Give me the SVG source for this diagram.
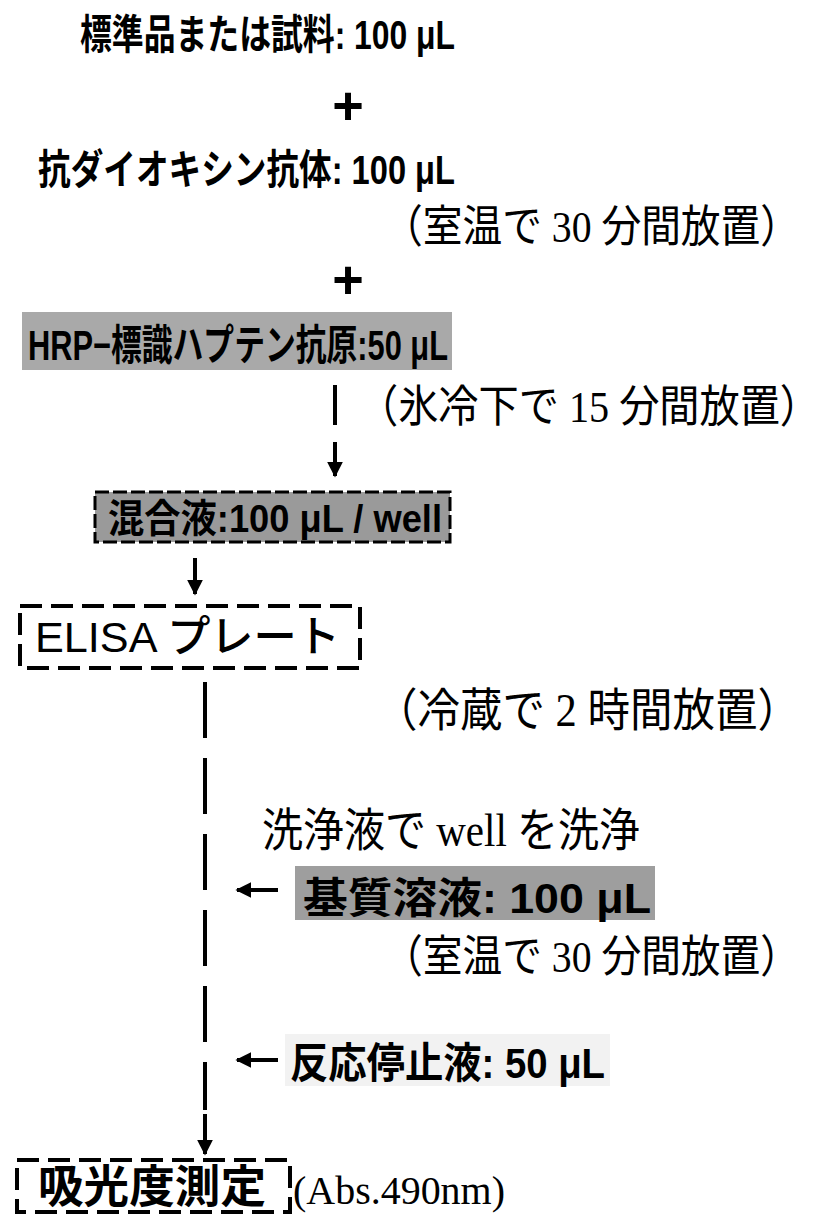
<svg xmlns="http://www.w3.org/2000/svg" width="829" height="1216" viewBox="0 0 829 1216">
<defs>
<style>
.b{font-family:"Liberation Sans","Noto Sans CJK JP",sans-serif;font-weight:bold;fill:#000;}
.m{font-family:"Liberation Sans","Noto Sans CJK JP",sans-serif;font-weight:500;fill:#000;}
.s{font-family:"Liberation Serif","Noto Sans CJK JP",serif;fill:#000;}
.plus{font-family:"Liberation Sans",sans-serif;font-weight:bold;font-size:54px;fill:#000;}
.ln{stroke:#000;stroke-width:4;fill:none;}
.dash{stroke:#000;stroke-width:4;fill:none;stroke-dasharray:22 9;}
.vd{stroke:#000;stroke-width:4;fill:none;stroke-dasharray:56 20;}
</style>
<marker id="ah" viewBox="0 0 10 10" refX="9" refY="5" markerWidth="4" markerHeight="4" orient="auto">
<path d="M0,0 L10,5 L0,10 z" fill="#000"/>
</marker>
</defs>
<rect width="829" height="1216" fill="#fff"/>

<g id="n1">
<text class="b" transform="translate(80,49) scale(1,1.08)" font-size="38" textLength="375" lengthAdjust="spacingAndGlyphs">標準品または試料: 100 μL</text>
</g>
<g id="plus1"><text class="plus" x="348" y="124" text-anchor="middle">+</text></g>
<g id="n2">
<text class="b" transform="translate(38,184) scale(1,1.08)" font-size="38" textLength="417" lengthAdjust="spacingAndGlyphs">抗ダイオキシン抗体: 100 μL</text>
</g>
<g id="t1"><text class="s" transform="translate(383,242) scale(1,1.12)" font-size="40" textLength="417" lengthAdjust="spacingAndGlyphs">（室温で 30 分間放置）</text></g>
<g id="plus2"><text class="plus" x="348" y="298" text-anchor="middle">+</text></g>
<g id="n3">
<rect x="22" y="312" width="430" height="58" fill="#a9a9a9"/>
<text class="b" transform="translate(28,360) scale(1,1.08)" font-size="39" textLength="420" lengthAdjust="spacingAndGlyphs">HRP−標識ハプテン抗原:50 μL</text>
</g>
<g id="t2"><text class="s" transform="translate(358,422) scale(1,1.12)" font-size="40" textLength="462" lengthAdjust="spacingAndGlyphs">（氷冷下で 15 分間放置）</text></g>
<g id="n4">
<rect x="95" y="492" width="355" height="50" fill="#9a9a9a" stroke="#000" stroke-width="3" stroke-dasharray="14 4"/>
<text class="b" transform="translate(108,532) scale(1,1.08)" font-size="36" textLength="334" lengthAdjust="spacingAndGlyphs">混合液:100 μL / well</text>
</g>
<g id="n5">
<rect x="20" y="606" width="340" height="62" class="dash"/>
<text class="m" transform="translate(35,652) scale(1,1.08)" font-size="40" textLength="305" lengthAdjust="spacingAndGlyphs">ELISA  プレート</text>
</g>
<g id="t3"><text class="s" transform="translate(375,726) scale(1,1.12)" font-size="41" textLength="425" lengthAdjust="spacingAndGlyphs">（冷蔵で 2 時間放置）</text></g>
<g id="t4"><text class="s" transform="translate(262,846) scale(1,1.12)" font-size="41" textLength="378" lengthAdjust="spacingAndGlyphs">洗浄液で well を洗浄</text></g>
<g id="n6">
<rect x="295" y="866" width="360" height="54" fill="#9e9e9e"/>
<text class="b" transform="translate(303,913) scale(1,1.08)" font-size="39" textLength="348" lengthAdjust="spacingAndGlyphs">基質溶液: 100 μL</text>
</g>
<g id="t5"><text class="s" transform="translate(383,972) scale(1,1.12)" font-size="40" textLength="417" lengthAdjust="spacingAndGlyphs">（室温で 30 分間放置）</text></g>
<g id="n7">
<rect x="285" y="1034" width="325" height="52" fill="#f2f2f2"/>
<text class="b" transform="translate(290,1078) scale(1,1.08)" font-size="39" textLength="315" lengthAdjust="spacingAndGlyphs">反応停止液: 50 μL</text>
</g>
<g id="n8">
<rect x="17" y="1160" width="273" height="52" fill="#f4f4f4" class="dash"/>
<text class="b" transform="translate(38,1203) scale(1,1.08)" font-size="42" textLength="228" lengthAdjust="spacingAndGlyphs">吸光度測定</text>
<text class="s" transform="translate(293,1204) scale(1,1.08)" font-size="38" textLength="212" lengthAdjust="spacingAndGlyphs">(Abs.490nm)</text>
</g>

<g id="connectors">
<line class="ln" x1="335" y1="385" x2="335" y2="425"/>
<line class="ln" x1="335" y1="442" x2="335" y2="476" marker-end="url(#ah)"/>
<line class="ln" x1="195" y1="558" x2="195" y2="594" marker-end="url(#ah)"/>
<line class="vd" x1="205" y1="682" x2="205" y2="1110"/>
<line class="ln" x1="205" y1="1114" x2="205" y2="1154" marker-end="url(#ah)"/>
<line class="ln" x1="278" y1="890" x2="237" y2="890" stroke-width="3" marker-end="url(#ah)"/>
<line class="ln" x1="278" y1="1060" x2="237" y2="1060" stroke-width="3" marker-end="url(#ah)"/>
</g>
</svg>
